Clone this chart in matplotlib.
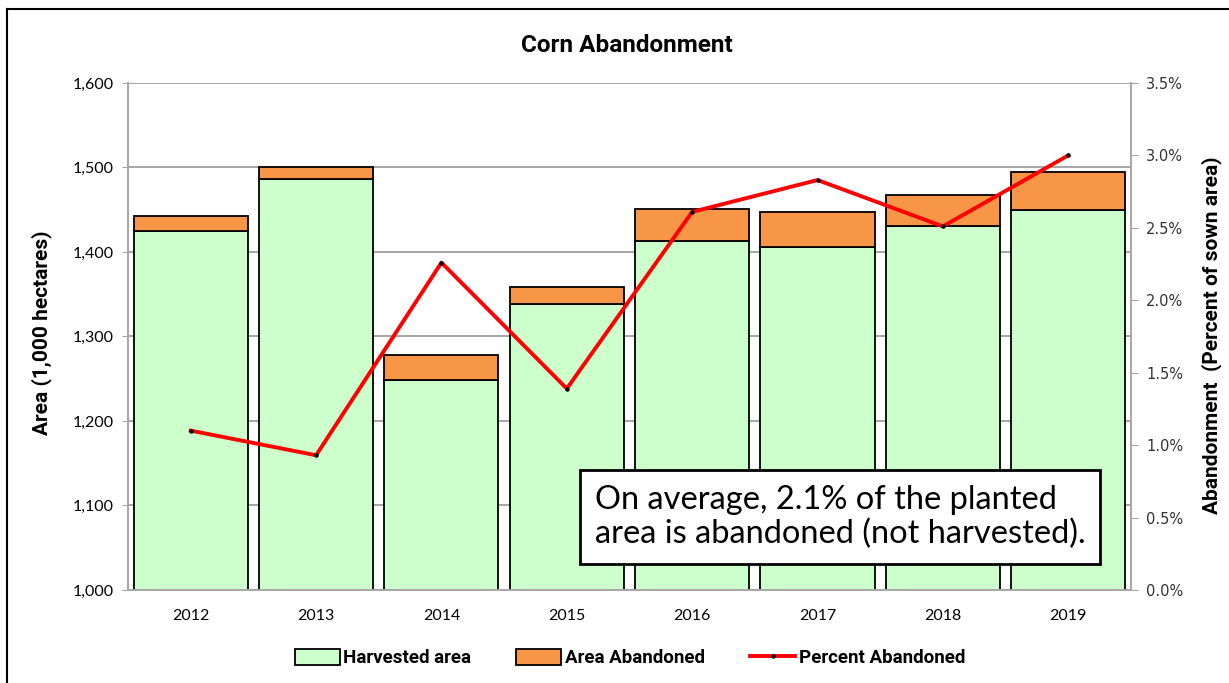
import numpy as np
import matplotlib.pyplot as plt
from matplotlib.patches import Patch
from matplotlib.lines import Line2D
from matplotlib.ticker import FuncFormatter, MultipleLocator

years = ["2012", "2013", "2014", "2015", "2016", "2017", "2018", "2019"]
harvested = [1425, 1486, 1249, 1339, 1413, 1406, 1431, 1450]
abandoned = [17, 15, 29, 20, 38, 41, 36, 45]
pct_abandoned = [1.10, 0.93, 2.26, 1.39, 2.61, 2.83, 2.51, 3.00]

green = "#CCFFCC"
orange = "#F79646"
grid_c = "#A6A6A6"
font = "Lato"
bold_font = "Roboto"

fig = plt.figure(figsize=(12.29, 6.83), dpi=100)
ax = fig.add_axes([0.1042, 0.1362, 0.816, 0.7423])
x = np.arange(len(years))

ax.bar(x, harvested, width=0.91, color=green, edgecolor="black", linewidth=1.3, zorder=2)
ax.bar(x, abandoned, bottom=harvested, width=0.91, color=orange, edgecolor="black", linewidth=1.3, zorder=2)
ax.set_ylim(1000, 1600)
ax.set_xlim(-0.5, len(years) - 0.5)
ax.yaxis.set_major_locator(MultipleLocator(100))
ax.yaxis.set_major_formatter(FuncFormatter(lambda v, p: f"{int(v):,}"))
ax.grid(axis="y", color=grid_c, linewidth=1.4, zorder=0)
ax.set_axisbelow(True)
ax.set_xticks(x)
ax.set_xticklabels(years, fontfamily=font, fontsize=11.5)
ax.tick_params(axis="x", length=0, pad=14)
ax.tick_params(axis="y", length=4, color=grid_c, labelsize=11.5, pad=6)
for lab in ax.get_yticklabels():
    lab.set_fontfamily(font)
for s in ["left", "bottom", "right"]:
    ax.spines[s].set_color(grid_c)
    ax.spines[s].set_linewidth(1.4)
ax.spines["top"].set_visible(False)

ax2 = ax.twinx()
ax2.plot(x, pct_abandoned, color="red", linewidth=2.8, marker="o", markersize=2.2,
         markerfacecolor="black", markeredgecolor="black", zorder=5)
ax2.set_ylim(0, 3.5)
ax2.yaxis.set_major_locator(MultipleLocator(0.5))
ax2.yaxis.set_major_formatter(FuncFormatter(lambda v, p: f"{v:.1f}%"))
ax2.tick_params(axis="y", length=5, color=grid_c, labelsize=10.5, labelcolor="#333333", pad=6)
for s in ["left", "bottom", "right", "top"]:
    ax2.spines[s].set_visible(False)

fig.text(627 / 1229, 1 - 45 / 683, "Corn Abandonment", ha="center", va="center",
         fontfamily=bold_font, fontweight="bold", fontsize=17.5)
fig.text(42 / 1229, 1 - 333 / 683, "Area (1,000 hectares)", rotation=90, ha="center", va="center",
         fontfamily=bold_font, fontweight="bold", fontsize=15)
fig.text(1212 / 1229, 1 - 335 / 683, "Abandonment  (Percent of sown area)", rotation=90,
         ha="center", va="center", fontfamily=bold_font, fontweight="bold", fontsize=15)

fig.text(595 / 1229, 1 - 517 / 683,
         "On average, 2.1% of the planted\narea is abandoned (not harvested).",
         ha="left", va="center", fontfamily=font, fontsize=23.5, linespacing=1.15, zorder=10,
         bbox=dict(boxstyle="square,pad=0.45", facecolor="white", edgecolor="black", linewidth=2))

handles = [
    Patch(facecolor=green, edgecolor="black", linewidth=1.3, label="Harvested area"),
    Patch(facecolor=orange, edgecolor="black", linewidth=1.3, label="Area Abandoned"),
    Line2D([], [], color="red", linewidth=2.8, marker="o", markersize=2.2,
           markerfacecolor="black", markeredgecolor="black", label="Percent Abandoned"),
]
fig.legend(handles=handles, loc="center", bbox_to_anchor=(630 / 1229, 1 - 658 / 683), ncol=3,
           frameon=False, handlelength=2.4, handleheight=1.0, handletextpad=0.2, columnspacing=2.4,
           prop=dict(family=bold_font, weight="bold", size=13.5))

fig.add_artist(Line2D([7 / 1229, 1.0], [1 - 9 / 683, 1 - 9 / 683], color="black", linewidth=1.5,
                      transform=fig.transFigure))
fig.add_artist(Line2D([7 / 1229, 7 / 1229], [0.0, 1 - 9 / 683], color="black", linewidth=1.5,
                      transform=fig.transFigure))

fig.savefig("out.png", dpi=100)
